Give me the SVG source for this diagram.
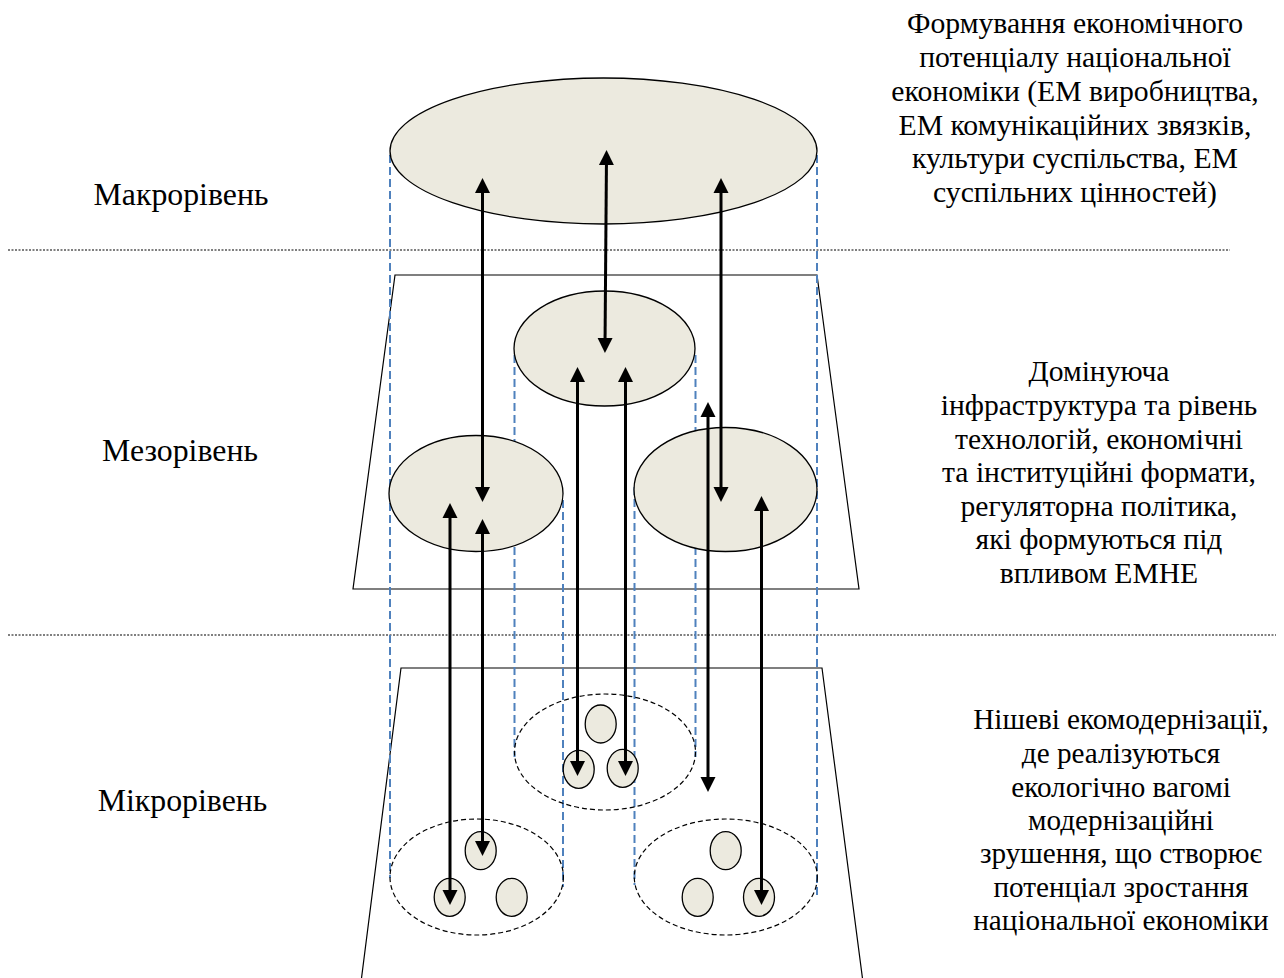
<svg xmlns="http://www.w3.org/2000/svg" width="1284" height="978" viewBox="0 0 1284 978">
<style>
.bg{fill:#ffffff}
.node{fill:#ECEADF;stroke:#000;stroke-width:1.3}
.small{fill:#ECEADF;stroke:#000;stroke-width:1.3}
.dash{fill:none;stroke:#000;stroke-width:1.2;stroke-dasharray:5,3}
.trap{fill:none;stroke:#000;stroke-width:1.2}
.guide{fill:none;stroke:#4F81BD;stroke-width:2;stroke-dasharray:8,4}
.dot{fill:none;stroke:#555;stroke-width:1.3;stroke-dasharray:2,1.5}
.arr{fill:none;stroke:#000;stroke-width:3;marker-start:url(#ah);marker-end:url(#ah)}
.lbl{font-family:"Liberation Serif","Times New Roman",serif;font-size:31.8px;fill:#000;text-anchor:middle}
.txt{font-family:"Liberation Serif","Times New Roman",serif;fill:#000;text-anchor:middle}
.t1{font-size:29.7px}
.t2{font-size:29.6px}
.t3{font-size:29.2px}
</style>
<defs>
<marker id="ah" markerUnits="userSpaceOnUse" markerWidth="16" markerHeight="16" refX="9" refY="7.5" orient="auto-start-reverse" viewBox="0 0 16 15">
<path d="M0,0 L15,7.5 L0,15 z" fill="#000"/>
</marker>
</defs>
<rect class="bg" x="0" y="0" width="1284" height="978"/>

<g id="separators">
<line class="dot" x1="8" y1="250" x2="1230" y2="250"/>
<line class="dot" x1="8" y1="635" x2="1276" y2="635"/>
</g>

<g id="mezo-plane">
<polygon class="trap" points="395,275 817,275 859,589 353,589"/>
</g>
<g id="micro-plane">
<polyline class="trap" points="360,990 401,668 822,668 864,990"/>
</g>

<g id="guides">
<line class="guide" x1="390" y1="155" x2="390" y2="878"/>
<line class="guide" x1="817" y1="155" x2="817" y2="898"/>
<line class="guide" x1="514.5" y1="355" x2="514.5" y2="757"/>
<line class="guide" x1="695.5" y1="355" x2="695.5" y2="757"/>
<line class="guide" x1="563" y1="500" x2="563" y2="887"/>
<line class="guide" x1="634.5" y1="487" x2="634.5" y2="885"/>
</g>

<g id="macro-ellipse">
<ellipse class="node" cx="603.5" cy="151" rx="213.5" ry="73"/>
</g>
<g id="mezo-center">
<ellipse class="node" cx="604.5" cy="348.5" rx="90.5" ry="57.5"/>
</g>
<g id="mezo-left">
<ellipse class="node" cx="476" cy="493.5" rx="87" ry="58"/>
</g>
<g id="mezo-right">
<ellipse class="node" cx="725.5" cy="489.5" rx="91.5" ry="62"/>
</g>

<g id="micro-center">
<ellipse class="dash" cx="605" cy="752" rx="90.5" ry="58"/>
<ellipse class="small" cx="600.7" cy="724" rx="15.5" ry="19"/>
<ellipse class="small" cx="578.7" cy="769.3" rx="15.5" ry="19"/>
<ellipse class="small" cx="622.7" cy="768.3" rx="15.5" ry="19"/>
</g>
<g id="micro-left">
<ellipse class="dash" cx="476.7" cy="877" rx="86.7" ry="58"/>
<ellipse class="small" cx="480.7" cy="850.7" rx="15.5" ry="19"/>
<ellipse class="small" cx="449.7" cy="897.3" rx="15.5" ry="19"/>
<ellipse class="small" cx="511.7" cy="897.3" rx="15.5" ry="19"/>
</g>
<g id="micro-right">
<ellipse class="dash" cx="725.8" cy="877" rx="91.5" ry="58"/>
<ellipse class="small" cx="725.7" cy="850.7" rx="15.5" ry="19"/>
<ellipse class="small" cx="697.7" cy="897.3" rx="15.5" ry="19"/>
<ellipse class="small" cx="759" cy="897.3" rx="15.5" ry="19"/>
</g>

<g id="connectors">
<line class="arr" x1="482.5" y1="184" x2="482.5" y2="496"/>
<line class="arr" x1="606.5" y1="156" x2="605" y2="347"/>
<line class="arr" x1="721" y1="184" x2="721" y2="496"/>
<line class="arr" x1="577.5" y1="373" x2="577.5" y2="770"/>
<line class="arr" x1="625.5" y1="373" x2="625.5" y2="770"/>
<line class="arr" x1="450" y1="509" x2="450" y2="899"/>
<line class="arr" x1="482.5" y1="525" x2="482.5" y2="850"/>
<line class="arr" x1="708" y1="408" x2="708" y2="786"/>
<line class="arr" x1="761.5" y1="502" x2="761.5" y2="899"/>
</g>

<g id="level-labels">
<text class="lbl" x="181" y="205">Макрорівень</text>
<text class="lbl" x="180" y="461">Мезорівень</text>
<text class="lbl" x="182.5" y="811">Мікрорівень</text>
</g>

<g id="macro-desc">
<text class="txt t1" x="1075" y="33">Формування економічного</text>
<text class="txt t1" x="1075" y="67">потенціалу національної</text>
<text class="txt t1" x="1075" y="101">економіки (ЕМ виробництва,</text>
<text class="txt t1" x="1075" y="135">ЕМ комунікаційних звязків,</text>
<text class="txt t1" x="1075" y="168">культури суспільства, ЕМ</text>
<text class="txt t1" x="1075" y="202">суспільних цінностей)</text>
</g>
<g id="mezo-desc">
<text class="txt t2" x="1099" y="381">Домінуюча</text>
<text class="txt t2" x="1099" y="415">інфраструктура та рівень</text>
<text class="txt t2" x="1099" y="449">технологій, економічні</text>
<text class="txt t2" x="1099" y="482">та інституційні формати,</text>
<text class="txt t2" x="1099" y="516">регуляторна політика,</text>
<text class="txt t2" x="1099" y="549">які формуються під</text>
<text class="txt t2" x="1099" y="583">впливом ЕМНЕ</text>
</g>
<g id="micro-desc">
<text class="txt t3" x="1121" y="729">Нішеві екомодернізації,</text>
<text class="txt t3" x="1121" y="763">де реалізуються</text>
<text class="txt t3" x="1121" y="797">екологічно вагомі</text>
<text class="txt t3" x="1121" y="830">модернізаційні</text>
<text class="txt t3" x="1121" y="863">зрушення, що створює</text>
<text class="txt t3" x="1121" y="897">потенціал зростання</text>
<text class="txt t3" x="1121" y="930">національної економіки</text>
</g>
</svg>
